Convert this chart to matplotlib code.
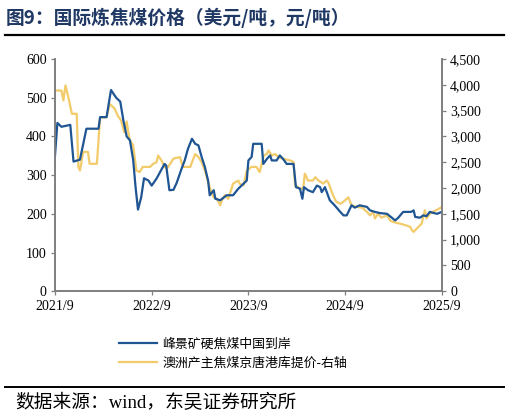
import numpy as np
import pandas as pd
import matplotlib
matplotlib.use('Agg')
import matplotlib.pyplot as plt
from matplotlib.ticker import FuncFormatter
from matplotlib.lines import Line2D

plt.rcParams['font.family'] = ['Liberation Serif', 'Noto Sans CJK SC', 'DejaVu Sans']

# 月份偏移（从2021/9起算）与价格
blue_m = [0, 0.3, 0.8, 1.9, 2.3, 3.1, 3.9, 5.4, 5.6, 6.4, 6.95, 7.6, 8.1, 8.5, 8.9,
          9.3, 9.7, 10.0, 10.3, 10.7, 11.05, 11.6, 12.0, 12.6, 13.2, 13.6, 13.8, 14.2,
          14.7, 15.1, 15.7, 16.1, 16.5, 17.0, 17.4, 17.8, 18.2, 18.6, 19.0, 19.2, 19.7,
          19.9, 20.5, 21.3, 22.1, 22.75, 23.4, 23.8, 24.0, 24.4, 24.6, 25.65, 25.85, 26.3,
          26.7, 26.9, 27.5, 27.9, 28.3, 28.75, 29.6, 29.9, 30.4, 30.7, 30.9, 31.4, 32.0,
          32.5, 32.9, 33.1, 33.5, 34.1, 34.7, 35.4, 35.8, 36.2, 36.8, 37.2, 37.8, 38.7,
          39.1, 39.7, 40.3, 41.2, 41.8, 42.2, 42.6, 43.2, 44.2, 44.5, 44.7, 45.3, 45.7,
          46.1, 46.5, 47.4, 48.0]
blue_v = [350, 435, 425, 430, 335, 340, 420, 420, 450, 450, 520, 500, 490, 440, 400,
          390, 340, 269, 211, 243, 292, 286, 273, 291, 314, 329, 325, 261,
          262, 280, 316, 338, 368, 394, 381, 377, 347, 321, 286, 248, 261,
          239, 235, 248, 248, 265, 278, 286, 338, 347, 381, 381, 329, 342,
          351, 338, 338, 351, 342, 329, 329, 269, 265, 239, 269, 261, 256,
          273, 269, 256, 269, 235, 222, 205, 196, 196, 222, 216, 222, 218,
          209, 205, 202, 200, 190, 183, 190, 205, 205, 209, 192, 190, 196,
          194, 205, 200, 205]

yellow_m = [0, 0.8, 1.05, 1.3, 1.6, 2.1, 2.7, 2.9, 3.1, 3.5, 4.1, 4.3, 5.2, 5.6, 6.4,
            6.8, 7.4, 7.8, 8.2, 8.6, 8.9, 9.1, 9.3, 9.7, 10.1, 10.5, 10.9, 11.8, 12.2,
            12.6, 12.8, 13.2, 13.6, 13.9, 14.3, 14.7, 15.5, 15.7, 15.9, 16.8, 17.0, 17.4,
            17.8, 18.2, 18.6, 19.0, 19.4, 19.7, 20.1, 20.5, 20.7, 21.1, 21.5, 22.1, 22.75,
            22.9, 23.4, 23.8, 24.4, 25.0, 25.4, 25.9, 26.3, 26.5, 26.9, 27.3, 27.7, 28.3,
            29.2, 29.6, 29.8, 30.4, 30.8, 31.0, 31.4, 32.0, 32.3, 32.7, 33.3, 33.7, 33.9,
            34.5, 34.9, 35.4, 35.8, 36.4, 36.8, 37.4, 38.1, 38.7, 39.1, 39.5, 39.7, 40.1,
            40.5, 41.2, 41.6, 42.0, 42.8, 43.6, 44.1, 44.3, 44.5, 44.9, 45.5, 45.9, 46.1,
            46.5, 46.9, 47.3, 48.0]
yellow_v = [3890, 3890, 3700, 3990, 3800, 3440, 3440, 2410, 2340, 2700, 2700, 2470,
            2470, 3370, 3370, 3630, 3540, 3400, 3310, 3080, 3290, 3080, 2925, 2830,
            2340, 2310, 2410, 2410, 2470, 2500, 2630, 2540, 2410, 2380, 2470, 2570,
            2600, 2500, 2410, 2410, 2500, 2660, 2600, 2500, 2340, 2115, 1920, 1820,
            1790, 1665, 1760, 1860, 1790, 2085, 2145, 2085, 2055, 2340, 2410, 2410,
            2310, 2630, 2660, 2730, 2630, 2660, 2600, 2565, 2535, 2505, 2055, 1990,
            1990, 2280, 2145, 2145, 2210, 2145, 2085, 2145, 2115, 1860, 1735, 1695,
            1735, 1820, 1665, 1635, 1620, 1540, 1470, 1540, 1410, 1500, 1425, 1470,
            1370, 1340, 1310, 1275, 1245, 1180, 1150, 1215, 1310, 1570, 1410, 1500,
            1540, 1570, 1630]

x_ticks = [0, 12, 24, 36, 48]
x_labels = ['2021/9', '2022/9', '2023/9', '2024/9', '2025/9']

blue_c = '#1f5592'
yellow_c = '#f2cb6b'
grey = '#7f7f7f'

fig = plt.figure(figsize=(5.09, 4.19), dpi=100)
ax = fig.add_axes([0.108, 0.305, 0.76, 0.554])
ax2 = ax.twinx()

ax2.plot(yellow_m, yellow_v, color=yellow_c, lw=1.6)
ax.plot(blue_m, blue_v, color=blue_c, lw=1.6)
ax.set_zorder(ax2.get_zorder() + 1)
ax.patch.set_visible(False)

ax.set_xlim(0, 48)
ax.set_ylim(0, 600)
ax2.set_ylim(0, 4500)
ax.set_xticks(x_ticks)
ax.set_xticklabels(x_labels)
ax.set_yticks(range(0, 601, 100))
ax2.set_yticks(range(0, 4501, 500))
ax2.yaxis.set_major_formatter(FuncFormatter(lambda v, p: f'{int(v):,}'))

for a in (ax, ax2):
    a.spines['top'].set_visible(False)
    for s in ('left', 'right', 'bottom'):
        a.spines[s].set_color(grey)
        a.spines[s].set_linewidth(1.2)
    a.tick_params(labelsize=10, length=3, color=grey, width=0.9, pad=3)

# 标题
fig.text(0.012, 0.958, '图9：国际炼焦煤价格（美元/吨，元/吨）', fontsize=13.5,
         fontweight='bold', color='#1f3864', va='center',
         family=['Noto Sans CJK SC', 'DejaVu Sans'])
fig.add_artist(Line2D([0.01, 0.99], [0.917, 0.917], color='black', lw=1.6))

# 图例
handles = [Line2D([], [], color=blue_c, lw=1.6), Line2D([], [], color=yellow_c, lw=1.6)]
leg = fig.legend(handles, ['峰景矿硬焦煤中国到岸', '澳洲产主焦煤京唐港库提价-右轴'],
                 loc='upper left', bbox_to_anchor=(0.21, 0.222), frameon=False,
                 handlelength=3.0, labelspacing=0.45, handletextpad=0.4,
                 prop={'family': ['Noto Sans CJK SC', 'DejaVu Sans'], 'size': 9.3})

fig.add_artist(Line2D([0.01, 0.99], [0.077, 0.077], color='black', lw=1.4))
fig.text(0.03, 0.037, '数据来源：wind，东吴证券研究所', fontsize=13.5, va='center',
         family=['Liberation Serif', 'Noto Sans CJK SC'])

fig.savefig('out.png', dpi=100)
